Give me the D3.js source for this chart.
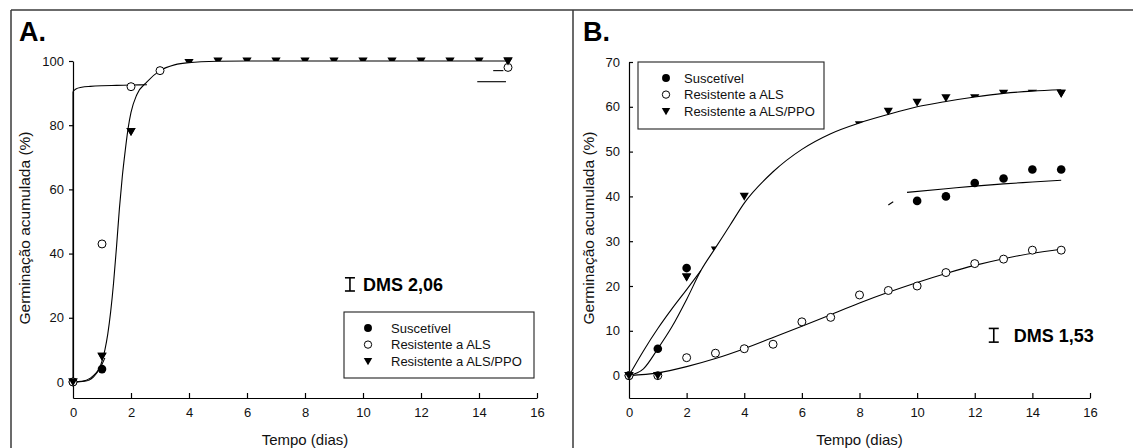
<!DOCTYPE html>
<html>
<head>
<meta charset="utf-8">
<script src="https://cdn.jsdelivr.net/npm/d3@7"></script>
<style>
  html, body { margin: 0; padding: 0; background: #fff; }
  svg { display: block; font-family: "Liberation Sans", Arial, sans-serif; }
</style>
</head>
<body>
<svg id="chart" width="1133" height="448"></svg>
<script>
// ---------- data ----------
const seriesNames = ["Suscetível", "Resistente a ALS", "Resistente a ALS/PPO"];
const xTicks = [0, 2, 4, 6, 8, 10, 12, 14, 16];
const yTicksA = [0, 20, 40, 60, 80, 100];
const yTicksB = [0, 10, 20, 30, 40, 50, 60, 70];
const xTitle = "Tempo (dias)";
const yTitle = "Germinação acumulada (%)";
const dmsA = 2.06, dmsLabelA = "DMS 2,06";
const dmsB = 1.53, dmsLabelB = "DMS 1,53";

// Panel A observed points
const aSuscDays = [0, 1];
const aSuscVals = [0, 4];
const aAlsDays = [0, 1, 2, 3, 15];
const aAlsVals = [0, 43, 92, 97, 98];
const aPpoDays = [0, 1, 2, 4, 5, 6, 7, 8, 9, 10, 11, 12, 13, 14, 15];
const aPpoVals = [0, 8, 78, 99.5, 100, 100, 100, 100, 100, 100, 100, 100, 100, 100, 100];

// Panel A fitted curves
const aFitPpoX = [0, 0.4, 0.7, 0.9, 1.0, 1.1, 1.2, 1.3, 1.4, 1.5, 1.6, 1.7, 1.8, 1.9, 2.0, 2.2, 2.55, 3, 3.5, 4, 5, 6, 8, 10, 12, 14, 15];
const aFitPpoY = [0, 0.2, 1.5, 4, 6.5, 10, 15, 22, 31, 42, 54, 64, 72, 79, 84, 89.5, 93.5, 97, 98.8, 99.5, 99.9, 100, 100, 100, 100, 100, 100];
const aFitAlsRiseX = [0, 0];
const aFitAlsRiseY = [0, 90.5];
const aFitAlsX = [0, 0.1, 0.3, 0.6, 1.0, 1.5, 2.0, 2.55];
const aFitAlsY = [90.5, 91.3, 91.8, 92.1, 92.3, 92.4, 92.5, 92.6];
const aFitSuscX = [0, 0.3, 0.6, 0.8, 1.0, 1.1];
const aFitSuscY = [0, 0.2, 1.2, 2.8, 5.5, 7.5];
const aFragLowX = [13.94, 14.93];
const aFragLowY = [93.55, 93.55];
const aFragHighX = [14.49, 14.84];
const aFragHighY = [97.0, 97.0];

// Panel B observed points
const bSuscDays = [0, 1, 2, 10, 11, 12, 13, 14, 15];
const bSuscVals = [0, 6, 24, 39, 40, 43, 44, 46, 46];
const bAlsDays = [0, 1, 2, 3, 4, 5, 6, 7, 8, 9, 10, 11, 12, 13, 14, 15];
const bAlsVals = [0, 0, 4, 5, 6, 7, 12, 13, 18, 19, 20, 23, 25, 26, 28, 28];
const bPpoDays = [0, 1, 2, 3, 4, 8, 9, 10, 11, 12, 13, 14, 15];
const bPpoVals = [0, 0, 22, 28, 40, 56, 59, 61, 62, 62, 63, 63, 63];

// Panel B fitted curves
const bFitPpoX = [0, 0.5, 1, 1.5, 2, 2.5, 3, 3.5, 4, 5, 6, 7, 8, 9, 10, 11, 12, 13, 14, 15];
const bFitPpoY = [0, 1.5, 6, 11, 17, 23.5, 28.5, 33.5, 38.5, 45.5, 50.5, 54, 56.4, 58.3, 60, 61.2, 62.2, 63, 63.5, 63.8];
const bFitSuscX1 = [0, 0.5, 1, 1.5, 2, 2.5];
const bFitSuscY1 = [0, 5.5, 10.5, 15, 19.2, 23.5];
const bFitSuscX2 = [9.0, 9.17];
const bFitSuscY2 = [38.1, 38.8];
const bFitSuscX3 = [9.65, 11, 12, 13, 14, 15];
const bFitSuscY3 = [40.9, 41.7, 42.3, 42.8, 43.2, 43.6];
const bFitAlsX = [0, 1, 2, 3, 4, 5, 6, 7, 8, 9, 10, 11, 12, 13, 14, 15];
const bFitAlsY = [0, 0.6, 2, 3.8, 6, 8.5, 11, 13.6, 16.2, 18.6, 20.8, 22.8, 24.6, 26.1, 27.3, 28.2];

// ---------- drawing ----------
const zip = (xs, ys) => xs.map((x, i) => [x, ys[i]]);
const svg = d3.select("#chart");
const defs = svg.append("defs");

// outer frame
const frame = svg.append("g").attr("stroke", "#3a3a3a").attr("stroke-width", 1.5).attr("fill", "none");
frame.append("line").attr("x1", 11).attr("y1", 10).attr("x2", 1133).attr("y2", 10);
frame.append("line").attr("x1", 11).attr("y1", 10).attr("x2", 11).attr("y2", 448);
frame.append("line").attr("x1", 573).attr("y1", 10).attr("x2", 573).attr("y2", 448);

function drawMarker(g, type, x, y, size) {
  const s = size || 1;
  if (type === 0) {
    g.append("circle").attr("cx", x).attr("cy", y).attr("r", 4.3 * s).attr("fill", "#000");
  } else if (type === 1) {
    g.append("circle").attr("cx", x).attr("cy", y).attr("r", 4.0 * s)
      .attr("fill", "#fff").attr("stroke", "#000").attr("stroke-width", 1);
  } else {
    const w = 4.6 * s, h = 4.2 * s;
    g.append("path").attr("d", `M${x - w},${y - h * 0.85}L${x + w},${y - h * 0.85}L${x},${y + h * 1.05}Z`)
      .attr("fill", "#000");
  }
}

function panel(cfg) {
  const g = svg.append("g");
  const x = d3.scaleLinear().domain([0, 16]).range(cfg.xRange);
  const y = d3.scaleLinear().domain(cfg.yDomain).range(cfg.yRange);
  const lineSmooth = d3.line().x(d => x(d[0])).y(d => y(d[1])).curve(d3.curveMonotoneX);
  const lineStraight = d3.line().x(d => x(d[0])).y(d => y(d[1]));

  // triangles (drawn first, partly masked by the white fill under their fit, as in the original)
  const tri = g.append("g");
  const ppo = cfg.series[2];
  ppo.days.forEach((d, i) => drawMarker(tri, 2, x(d), y(ppo.vals[i])));

  // white fill under the ALS/PPO fit over the masked range
  const clipId = "mask-" + cfg.letter.replace(".", "");
  defs.append("clipPath").attr("id", clipId).append("rect")
    .attr("x", x(cfg.maskRange[0])).attr("width", x(cfg.maskRange[1]) - x(cfg.maskRange[0]))
    .attr("y", 0).attr("height", 448);
  const area = d3.area().x(d => x(d[0])).y0(y(cfg.yDomain[0]) - 2).y1(d => y(d[1])).curve(d3.curveMonotoneX);
  g.append("path").datum(cfg.curves[0].pts).attr("d", area).attr("fill", "#fff")
    .attr("clip-path", `url(#${clipId})`);

  // x axis
  const xAxis = g.append("g").attr("transform", `translate(0,${cfg.yRange[0]})`)
    .call(d3.axisBottom(x).tickValues(xTicks).tickSizeInner(-5).tickSizeOuter(0).tickPadding(10));
  // y axis
  const yAxis = g.append("g").attr("transform", `translate(${cfg.xRange[0]},0)`)
    .call(d3.axisLeft(y).tickValues(cfg.yTicks).tickSizeInner(cfg.yTickIn ? -4 : 4).tickSizeOuter(0)
      .tickPadding(cfg.yTickIn ? 9 : 5));
  [xAxis, yAxis].forEach(a => {
    a.select(".domain").attr("stroke", "#000").attr("stroke-width", 1.2);
    a.selectAll(".tick line").attr("stroke", "#000").attr("stroke-width", 1.2);
    a.selectAll(".tick text").attr("font-size", 13).attr("fill", "#111")
      .attr("font-family", "'Liberation Sans', Arial, sans-serif");
  });
  xAxis.selectAll(".tick").filter(d => d === 0).select("line").remove();

  // titles
  g.append("text").attr("x", x(8)).attr("y", 445).attr("text-anchor", "middle")
    .attr("font-size", 15).attr("fill", "#111").text(xTitle);
  g.append("text").attr("transform", `translate(${cfg.yTitleX},228) rotate(-90)`)
    .attr("text-anchor", "middle").attr("dy", "0.35em").attr("font-size", 15.5).attr("fill", "#111").text(yTitle);
  g.append("text").attr("x", cfg.letterX).attr("y", 40.5).attr("font-size", 27).attr("font-weight", "bold")
    .attr("fill", "#000").text(cfg.letter);

  // fitted curves
  cfg.curves.forEach(c => {
    g.append("path").datum(c.pts).attr("d", c.straight ? lineStraight : lineSmooth)
      .attr("fill", "none").attr("stroke", "#000").attr("stroke-width", 1.1);
  });

  // other points
  const pts = g.append("g");
  [0, 1].forEach(si => {
    const s = cfg.series[si];
    s.days.forEach((d, i) => drawMarker(pts, si, x(d), y(s.vals[i])));
  });
  // triangles outside the masked range stay on top
  ppo.days.forEach((d, i) => {
    if (d < cfg.maskRange[0] || d > cfg.maskRange[1]) drawMarker(pts, 2, x(d), y(ppo.vals[i]));
  });

  // DMS bar
  const bx = x(cfg.dmsX), yc = cfg.dmsC;
  const bar = g.append("g").attr("stroke", "#000").attr("stroke-width", 1.6);
  bar.append("line").attr("x1", bx).attr("x2", bx).attr("y1", y(yc - cfg.dms)).attr("y2", y(yc + cfg.dms));
  bar.append("line").attr("x1", bx - 5).attr("x2", bx + 5).attr("y1", y(yc - cfg.dms)).attr("y2", y(yc - cfg.dms));
  bar.append("line").attr("x1", bx - 5).attr("x2", bx + 5).attr("y1", y(yc + cfg.dms)).attr("y2", y(yc + cfg.dms));
  g.append("text").attr("x", bx + cfg.dmsGap).attr("y", y(yc) + 6.5).attr("font-size", 18)
    .attr("font-weight", "bold").attr("fill", "#000").text(cfg.dmsLabel);

  // legend
  const L = cfg.legend;
  g.append("rect").attr("x", L.x).attr("y", L.y).attr("width", L.w).attr("height", L.h)
    .attr("fill", "#fff").attr("stroke", "#222").attr("stroke-width", 1.1);
  seriesNames.forEach((n, i) => {
    const cy = L.y + 16 + i * 16.6;
    drawMarker(g, i, L.x + L.mx, cy, 0.92);
    g.append("text").attr("x", L.x + L.tx).attr("y", cy + 4.6).attr("font-size", 13)
      .attr("fill", "#111").text(n);
  });
}

panel({
  xRange: [73, 537], yDomain: [-5, 100], yRange: [398, 61], yTicks: yTicksA, yTickIn: false,
  yTitleX: 25, letter: "A.", letterX: 19, maskRange: [3.5, 14.85],
  curves: [
    { pts: zip(aFitPpoX, aFitPpoY) },
    { pts: zip(aFitAlsRiseX, aFitAlsRiseY), straight: true },
    { pts: zip(aFitAlsX, aFitAlsY) },
    { pts: zip(aFitSuscX, aFitSuscY) },
    { pts: zip(aFragLowX, aFragLowY), straight: true },
    { pts: zip(aFragHighX, aFragHighY), straight: true }
  ],
  series: [
    { days: aSuscDays, vals: aSuscVals },
    { days: aAlsDays, vals: aAlsVals },
    { days: aPpoDays, vals: aPpoVals }
  ],
  dms: dmsA, dmsLabel: dmsLabelA, dmsX: 9.55, dmsC: 30.4, dmsGap: 13,
  legend: { x: 344, y: 312, w: 190, h: 66, mx: 24, tx: 47 }
});

panel({
  xRange: [629, 1090], yDomain: [-5, 70], yRange: [398, 62], yTicks: yTicksB, yTickIn: true,
  yTitleX: 589, letter: "B.", letterX: 583, maskRange: [2.6, 14.85],
  curves: [
    { pts: zip(bFitPpoX, bFitPpoY) },
    { pts: zip(bFitSuscX1, bFitSuscY1) },
    { pts: zip(bFitSuscX2, bFitSuscY2), straight: true },
    { pts: zip(bFitSuscX3, bFitSuscY3) },
    { pts: zip(bFitAlsX, bFitAlsY) }
  ],
  series: [
    { days: bSuscDays, vals: bSuscVals },
    { days: bAlsDays, vals: bAlsVals },
    { days: bPpoDays, vals: bPpoVals }
  ],
  dms: dmsB, dmsLabel: dmsLabelB, dmsX: 12.66, dmsC: 9.0, dmsGap: 20,
  legend: { x: 638, y: 62, w: 186, h: 67, mx: 28, tx: 46 }
});
</script>
</body>
</html>
